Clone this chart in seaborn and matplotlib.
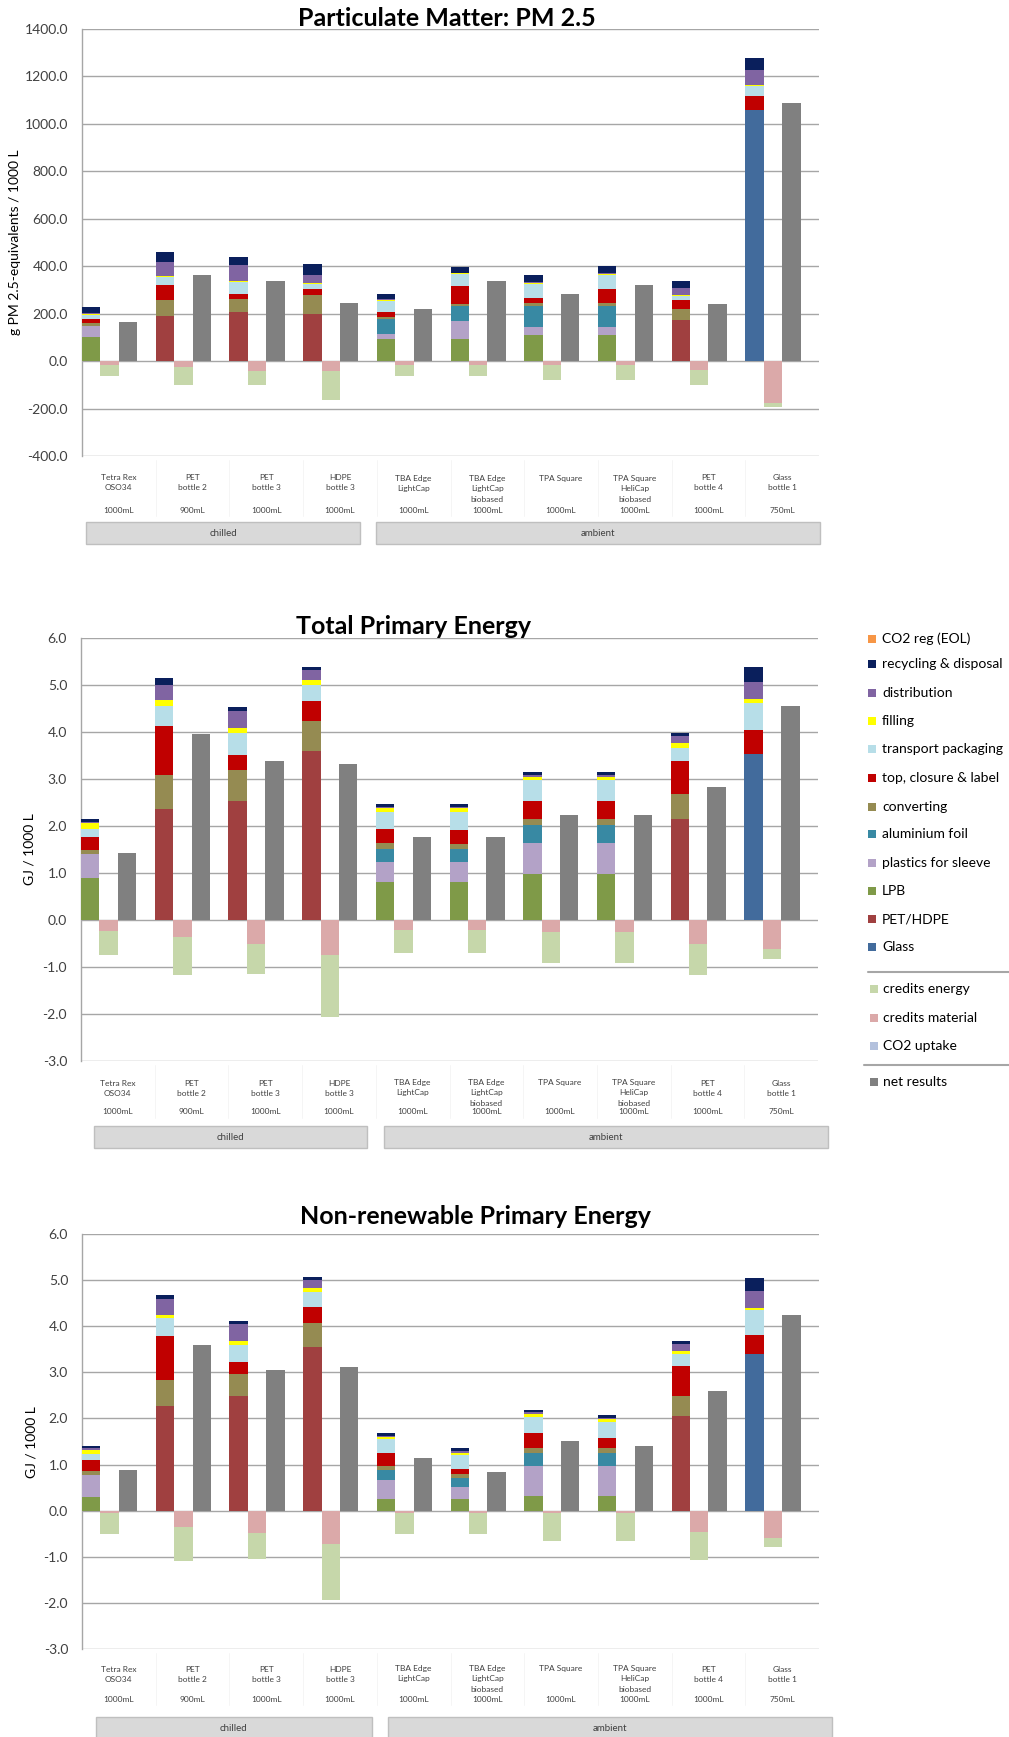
import numpy as np
import pandas as pd
import matplotlib
matplotlib.use("Agg")
import matplotlib.pyplot as plt
import matplotlib.transforms as mtransforms
from matplotlib.patches import Rectangle
from matplotlib.lines import Line2D
import seaborn as sns

# ---------------- data ----------------
cat_line1 = ["Tetra Rex", "PET", "PET", "HDPE", "TBA Edge", "TBA Edge", "TPA Square", "TPA Square", "PET", "Glass"]
cat_line2 = ["OSO34", "bottle 2", "bottle 3", "bottle 3", "LightCap", "LightCap", "", "HeliCap", "bottle 4", "bottle 1"]
cat_line3 = ["", "", "", "", "", "biobased", "", "biobased", "", ""]
volumes = ["1000mL", "900mL", "1000mL", "1000mL", "1000mL", "1000mL", "1000mL", "1000mL", "1000mL", "750mL"]
groups = ["chilled", "ambient"]

component_names = ["Glass", "PET/HDPE", "LPB", "plastics for sleeve", "aluminium foil", "converting",
                   "top, closure & label", "transport packaging", "filling", "distribution",
                   "recycling & disposal", "CO2 reg (EOL)"]
credit_names = ["credits energy", "credits material", "CO2 uptake"]

# Particulate Matter PM 2.5 (g PM2.5-eq / 1000 L)
pm_glass = [0, 0, 0, 0, 0, 0, 0, 0, 0, 1057]
pm_pet = [0, 191, 207, 200, 0, 0, 0, 0, 173, 0]
pm_lpb = [102, 0, 0, 0, 92, 92, 108, 108, 0, 0]
pm_sleeve = [46, 0, 0, 0, 23, 77, 36, 36, 0, 0]
pm_alu = [0, 0, 0, 0, 61, 63, 88, 88, 0, 0]
pm_conv = [14, 68, 54, 78, 11, 10, 11, 11, 45, 0]
pm_top = [14, 61, 24, 25, 20, 75, 23, 60, 41, 60]
pm_transport = [20, 35, 49, 23, 47, 49, 58, 59, 16, 43]
pm_filling = [4, 4, 3, 2, 5, 4, 4, 6, 5, 2]
pm_distribution = [4, 58, 67, 33, 4, 3, 5, 2, 29, 67]
pm_recycling = [24, 43, 35, 50, 21, 24, 28, 31, 28, 49]
pm_co2reg = [0, 0, 0, 0, 0, 0, 0, 0, 0, 0]
pm_cred_material = [-18, -24, -41, -41, -15, -15, -18, -18, -36, -175]
pm_cred_energy = [-44, -75, -58, -123, -47, -47, -62, -62, -63, -19]
pm_co2_uptake = [0, 0, 0, 0, 0, 0, 0, 0, 0, 0]
pm_net = [166, 361, 338, 246, 221, 338, 284, 320, 240, 1086]

# Total Primary Energy (GJ / 1000 L)
tpe_glass = [0, 0, 0, 0, 0, 0, 0, 0, 0, 3.53]
tpe_pet = [0, 2.36, 2.54, 3.59, 0, 0, 0, 0, 2.14, 0]
tpe_lpb = [0.90, 0, 0, 0, 0.81, 0.81, 0.97, 0.97, 0, 0]
tpe_sleeve = [0.51, 0, 0, 0, 0.42, 0.42, 0.67, 0.67, 0, 0]
tpe_alu = [0, 0, 0, 0, 0.29, 0.28, 0.38, 0.38, 0, 0]
tpe_conv = [0.09, 0.73, 0.65, 0.64, 0.11, 0.10, 0.13, 0.13, 0.55, 0]
tpe_top = [0.27, 1.03, 0.32, 0.43, 0.30, 0.30, 0.39, 0.39, 0.69, 0.51]
tpe_transport = [0.16, 0.44, 0.46, 0.35, 0.37, 0.39, 0.44, 0.44, 0.28, 0.57]
tpe_filling = [0.13, 0.12, 0.11, 0.10, 0.08, 0.08, 0.07, 0.07, 0.10, 0.10]
tpe_distribution = [0.03, 0.33, 0.36, 0.20, 0.03, 0.03, 0.03, 0.03, 0.16, 0.36]
tpe_recycling = [0.06, 0.14, 0.10, 0.08, 0.05, 0.05, 0.06, 0.06, 0.06, 0.32]
tpe_co2reg = [0, 0, 0, 0, 0, 0, 0, 0, 0, 0]
tpe_cred_material = [-0.24, -0.36, -0.51, -0.75, -0.21, -0.21, -0.25, -0.25, -0.50, -0.61]
tpe_cred_energy = [-0.50, -0.82, -0.63, -1.32, -0.50, -0.49, -0.66, -0.66, -0.66, -0.22]
tpe_co2_uptake = [0, 0, 0, 0, 0, 0, 0, 0, 0, 0]
tpe_net = [1.42, 3.96, 3.39, 3.31, 1.76, 1.76, 2.24, 2.24, 2.83, 4.55]

# Non-renewable Primary Energy (GJ / 1000 L)
nre_glass = [0, 0, 0, 0, 0, 0, 0, 0, 0, 3.40]
nre_pet = [0, 2.28, 2.48, 3.54, 0, 0, 0, 0, 2.06, 0]
nre_lpb = [0.29, 0, 0, 0, 0.25, 0.25, 0.31, 0.31, 0, 0]
nre_sleeve = [0.48, 0, 0, 0, 0.42, 0.26, 0.66, 0.66, 0, 0]
nre_alu = [0, 0, 0, 0, 0.21, 0.20, 0.27, 0.27, 0, 0]
nre_conv = [0.09, 0.55, 0.48, 0.52, 0.09, 0.08, 0.11, 0.11, 0.42, 0]
nre_top = [0.24, 0.96, 0.26, 0.36, 0.27, 0.12, 0.34, 0.23, 0.66, 0.42]
nre_transport = [0.13, 0.38, 0.38, 0.33, 0.31, 0.30, 0.35, 0.35, 0.25, 0.53]
nre_filling = [0.08, 0.08, 0.08, 0.07, 0.04, 0.04, 0.05, 0.06, 0.08, 0.04]
nre_distribution = [0.04, 0.33, 0.36, 0.19, 0.04, 0.04, 0.05, 0.03, 0.14, 0.37]
nre_recycling = [0.05, 0.10, 0.08, 0.05, 0.05, 0.06, 0.05, 0.06, 0.07, 0.28]
nre_co2reg = [0, 0, 0, 0, 0, 0, 0, 0, 0, 0]
nre_cred_material = [-0.04, -0.35, -0.49, -0.73, -0.04, -0.04, -0.04, -0.04, -0.47, -0.59]
nre_cred_energy = [-0.46, -0.74, -0.56, -1.20, -0.46, -0.46, -0.61, -0.61, -0.60, -0.19]
nre_co2_uptake = [0, 0, 0, 0, 0, 0, 0, 0, 0, 0]
nre_net = [0.88, 3.60, 3.04, 3.12, 1.15, 0.83, 1.52, 1.40, 2.59, 4.24]

# ---------------- style ----------------
comp_colors = ["#426B9C", "#A04040", "#7F9A48", "#B3A2C7", "#3889A3", "#958B52",
               "#C00000", "#B7DEE8", "#FFFF00", "#8064A2", "#0A1F5C", "#F79646"]
cred_colors = ["#C6D7AA", "#DBA9A9", "#B3C1DD"]
net_color = "#808080"
grid_color = "#A6A6A6"
text_color = "#404040"

sns.set_theme(style="white")
plt.rcParams['font.family'] = ['Lato', 'DejaVu Sans']

W, H = 1009, 1737
fig = plt.figure(figsize=(W / 100, H / 100), dpi=100)
fig.patch.set_facecolor("white")


def fx(x):
    return x / W


def fy(y):
    return 1 - y / H


def draw_chart(title, title_xy, ylabel, ylabel_xy, box, comps, cmat, cen, cup, net,
               ylim, step, rows, group_boxes):
    l, t, r, b = box
    ax = fig.add_axes([fx(l), fy(b), (r - l) / W, (b - t) / H])
    x = np.arange(len(net), dtype=float)
    # stacked positive contributions
    bottom = np.zeros(len(net))
    for vals, col in zip(comps, comp_colors):
        v = np.asarray(vals, dtype=float)
        ax.bar(x + 0.125, v, 0.25, bottom=bottom, color=col, edgecolor="none", zorder=3)
        bottom += v
    # credits
    nb = np.zeros(len(net))
    for vals, col in zip([cmat, cen, cup], [cred_colors[1], cred_colors[0], cred_colors[2]]):
        v = np.asarray(vals, dtype=float)
        ax.bar(x + 0.375, v, 0.25, bottom=nb, color=col, edgecolor="none", zorder=3)
        nb += v
    # net results via seaborn
    df = pd.DataFrame({"pos": x + 0.625, "val": net})
    sns.barplot(data=df, x="pos", y="val", native_scale=True, width=0.25, color=net_color,
                saturation=1, errorbar=None, ax=ax, zorder=3, edgecolor="none")
    ax.set_xlabel("")
    ax.set_ylabel("")
    ax.set_xlim(0, len(net))
    ax.set_xticks([])
    ax.set_ylim(*ylim)
    ticks = np.arange(ylim[0], ylim[1] + step / 2, step)
    ax.set_yticks(ticks)
    ax.set_yticklabels([f"{tv:.1f}" for tv in ticks], fontsize=10, color=text_color)
    ax.tick_params(axis="y", length=0, pad=10)
    ax.set_axisbelow(True)
    ax.yaxis.grid(True, color=grid_color, lw=1.0)
    for s in ["top", "right", "bottom"]:
        ax.spines[s].set_visible(False)
    ax.spines["left"].set_color(grid_color)
    ax.spines["left"].set_linewidth(1.0)
    ax.patch.set_alpha(0)

    fig.text(fx(title_xy[0]), fy(title_xy[1]), title, ha="center", va="center",
             fontsize=18, fontweight="bold", color="black")
    fig.text(fx(ylabel_xy[0]), fy(ylabel_xy[1]), ylabel, ha="center", va="center",
             rotation=90, fontsize=10, color="black")

    tr = mtransforms.blended_transform_factory(ax.transData, fig.transFigure)
    for i in range(len(net)):
        for txt, yy in zip([cat_line1[i], cat_line2[i], cat_line3[i], volumes[i]], rows):
            if txt:
                ax.text(i + 0.5, fy(yy), txt, transform=tr, ha="center", va="center",
                        fontsize=6, color=text_color, clip_on=False)
    for i in range(1, len(net)):
        ax.add_line(Line2D([i, i], [fy(b + 4), fy(rows[-1] + 6)], transform=tr,
                           color="#F4F4F4", lw=0.6, clip_on=False))
    for name, (gx0, gx1, gy0, gy1) in zip(groups, group_boxes):
        fig.add_artist(Rectangle((fx(gx0), fy(gy1)), (gx1 - gx0) / W, (gy1 - gy0) / H,
                                 transform=fig.transFigure, facecolor="#D9D9D9",
                                 edgecolor="#BFBFBF", lw=1))
        fig.text(fx((gx0 + gx1) / 2), fy((gy0 + gy1) / 2), name, ha="center", va="center",
                 fontsize=7, color=text_color)
    return ax


draw_chart("Particulate Matter: PM 2.5", (447, 19), "g PM 2.5-equivalents / 1000 L", (15, 242),
           (82, 29, 819, 456),
           [pm_glass, pm_pet, pm_lpb, pm_sleeve, pm_alu, pm_conv, pm_top, pm_transport,
            pm_filling, pm_distribution, pm_recycling, pm_co2reg],
           pm_cred_material, pm_cred_energy, pm_co2_uptake, pm_net,
           (-400, 1400), 200, [478, 488, 499, 510],
           [(86, 360, 522, 544), (376, 820, 522, 544)])

draw_chart("Total Primary Energy", (414, 627), "GJ / 1000 L", (29, 849),
           (81, 638, 818, 1061),
           [tpe_glass, tpe_pet, tpe_lpb, tpe_sleeve, tpe_alu, tpe_conv, tpe_top, tpe_transport,
            tpe_filling, tpe_distribution, tpe_recycling, tpe_co2reg],
           tpe_cred_material, tpe_cred_energy, tpe_co2_uptake, tpe_net,
           (-3, 6), 1, [1083, 1093, 1103, 1112],
           [(94, 367, 1126, 1148), (384, 828, 1126, 1148)])

draw_chart("Non-renewable Primary Energy", (475, 1216), "GJ / 1000 L", (31, 1442),
           (82, 1234, 819, 1649),
           [nre_glass, nre_pet, nre_lpb, nre_sleeve, nre_alu, nre_conv, nre_top, nre_transport,
            nre_filling, nre_distribution, nre_recycling, nre_co2reg],
           nre_cred_material, nre_cred_energy, nre_co2_uptake, nre_net,
           (-3, 6), 1, [1669, 1679, 1689, 1699],
           [(96, 372, 1717, 1740), (388, 832, 1717, 1740)])

# ---------------- legend (right of the middle chart) ----------------
legend_y = [947, 919, 891, 863, 834, 807, 778, 749, 721, 693, 664, 639]
for name, col, yy in zip(component_names, comp_colors, legend_y):
    fig.add_artist(Rectangle((fx(868), fy(yy + 4)), 8 / W, 8 / H, transform=fig.transFigure,
                             facecolor=col, edgecolor="none"))
    fig.text(fx(882), fy(yy), name, ha="left", va="center", fontsize=10, color="black")

fig.add_artist(Line2D([fx(868), 1.0], [fy(972), fy(972)], transform=fig.transFigure,
                      color="#A6A6A6", lw=1.5))
for name, col, yy in zip(credit_names, cred_colors, [989, 1018, 1046]):
    fig.add_artist(Rectangle((fx(870), fy(yy + 4)), 8 / W, 8 / H, transform=fig.transFigure,
                             facecolor=col, edgecolor="none"))
    fig.text(fx(883), fy(yy), name, ha="left", va="center", fontsize=10, color="black")
fig.add_artist(Line2D([fx(864), 1.0], [fy(1065), fy(1065)], transform=fig.transFigure,
                      color="#A6A6A6", lw=1.5))
fig.add_artist(Rectangle((fx(870), fy(1086)), 8 / W, 8 / H, transform=fig.transFigure,
                         facecolor=net_color, edgecolor="none"))
fig.text(fx(883), fy(1082), "net results", ha="left", va="center", fontsize=10, color="black")

fig.savefig("out.png", dpi=100, facecolor="white")
